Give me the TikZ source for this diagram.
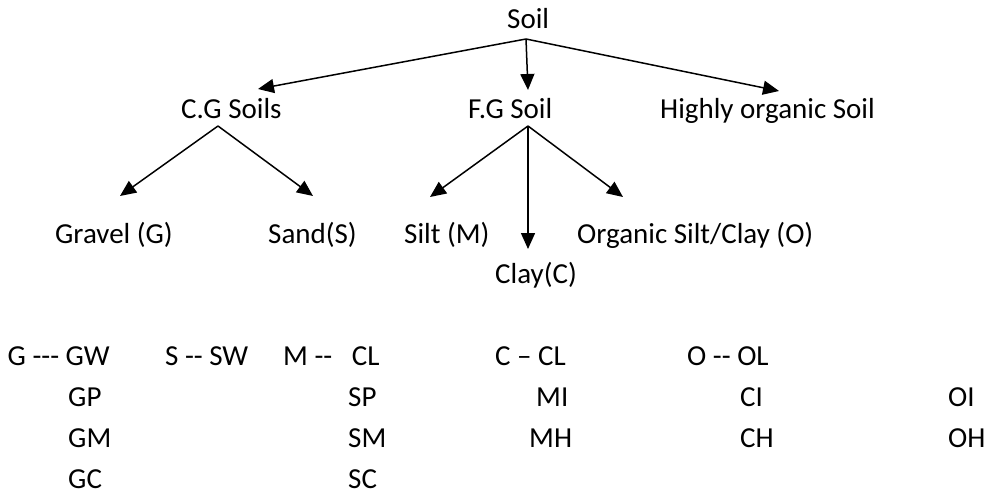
\documentclass[tikz,border=0pt]{standalone}
\usepackage{fontspec}
\newfontfamily\carlito{Carlito}
\usetikzlibrary{arrows.meta}
\begin{document}
\begin{tikzpicture}[x=1pt,y=-1pt,
  lbl/.style={inner sep=0pt, anchor=base west, font=\carlito\fontsize{29}{35}\selectfont},
  arr/.style={line width=1.5pt, -{Triangle[length=16pt,width=14pt]}}]
\useasboundingbox (0,0) rectangle (987,495);
% level 1
\node[lbl] (soil) at (507,29) {Soil};
% level 2
\node[lbl] (cg) at (181,118) {C.G Soils};
\node[lbl] (fg) at (468,118) {F.G Soil};
\node[lbl] (ho) at (660,118) {Highly organic Soil};
% level 3
\node[lbl] (gravel) at (55,243) {Gravel (G)};
\node[lbl] (sand) at (268,243) {Sand(S)};
\node[lbl] (silt) at (404,243) {Silt (M)};
\node[lbl] (org) at (577,243) {Organic Silt/Clay (O)};
\node[lbl] (clay) at (495,283) {Clay(C)};
% connector points
\coordinate (s0) at (526,39);
\coordinate (tcg) at (258,89);
\coordinate (tfg) at (528,90);
\coordinate (tho) at (779,91);
\coordinate (cg0) at (218,126);
\coordinate (tg) at (120,196);
\coordinate (ts) at (313,196);
\coordinate (fg0) at (528,126);
\coordinate (tm) at (430,197);
\coordinate (tc) at (528,249);
\coordinate (to) at (623,197);
\draw[arr] (s0) -- (tcg);
\draw[arr] (s0) -- (tfg);
\draw[arr] (s0) -- (tho);
\draw[arr] (cg0) -- (tg);
\draw[arr] (cg0) -- (ts);
\draw[arr] (fg0) -- (tm);
\draw[arr] (fg0) -- (tc);
\draw[arr] (fg0) -- (to);
% table rows
\node[lbl] (r1a) at (7.5,365) {G -{}-{}- GW};
\node[lbl] (r1b) at (165,365) {S -{}- SW};
\node[lbl] (r1c) at (283,365) {M -{}-\hspace{13pt} CL};
\node[lbl] (r1d) at (495,365) {C – CL};
\node[lbl] (r1e) at (687,365) {O -{}- OL};
\node[lbl] (r2a) at (68,406) {GP};
\node[lbl] (r2b) at (348,406) {SP};
\node[lbl] (r2c) at (536,406) {MI};
\node[lbl] (r2d) at (740,406) {CI};
\node[lbl] (r2e) at (948,406) {OI};
\node[lbl] (r3a) at (68,447) {GM};
\node[lbl] (r3b) at (348,447) {SM};
\node[lbl] (r3c) at (529,447) {MH};
\node[lbl] (r3d) at (740,447) {CH};
\node[lbl] (r3e) at (948,447) {OH};
\node[lbl] (r4a) at (68,488) {GC};
\node[lbl] (r4b) at (348,488) {SC};
\end{tikzpicture}
\end{document}
